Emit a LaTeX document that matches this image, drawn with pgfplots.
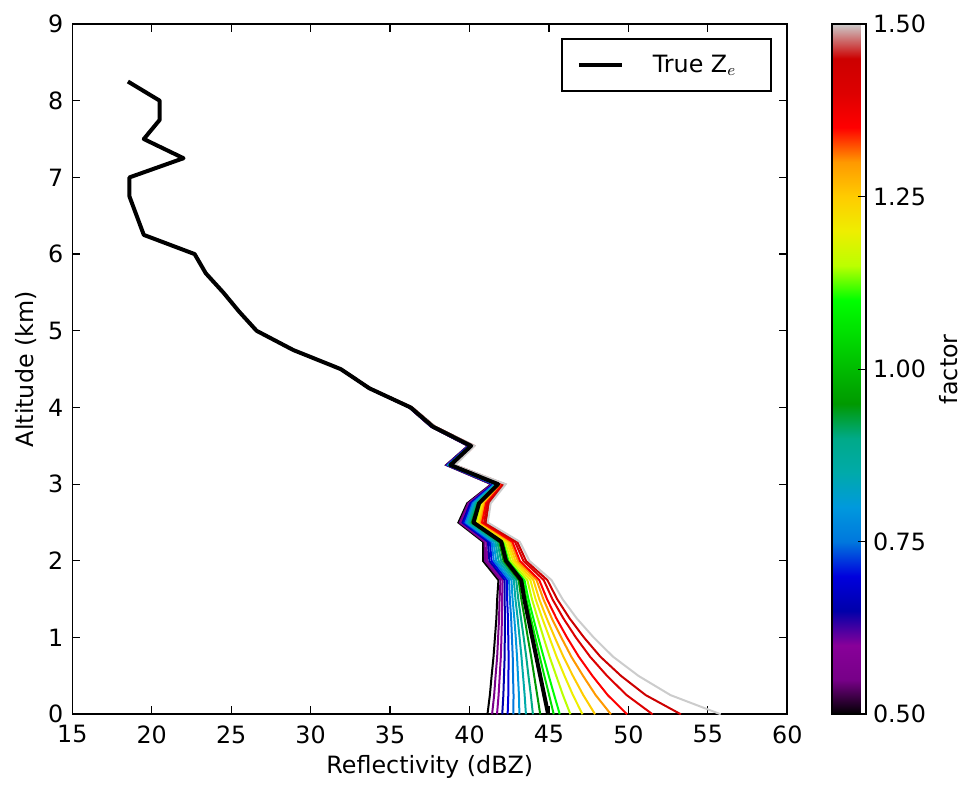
\documentclass[border=0pt]{standalone}
\usepackage{pgfplots}
\usepackage{pgfplotstable}
\pgfplotsset{compat=1.18}
\usepackage{fontspec}
\setmainfont{DejaVu Sans}

\definecolor{c00}{rgb}{0,0,0}
\definecolor{c01}{rgb}{0.4667,0,0.5333}
\definecolor{c02}{rgb}{0.5333,0,0.6}
\definecolor{c03}{rgb}{0,0,0.6667}
\definecolor{c04}{rgb}{0,0,0.8667}
\definecolor{c05}{rgb}{0,0.4667,0.8667}
\definecolor{c06}{rgb}{0,0.6,0.8667}
\definecolor{c07}{rgb}{0,0.6667,0.6667}
\definecolor{c08}{rgb}{0,0.6667,0.5333}
\definecolor{c09}{rgb}{0,0.6,0}
\definecolor{c10}{rgb}{0,0.7333,0}
\definecolor{c11}{rgb}{0,0.8667,0}
\definecolor{c12}{rgb}{0,1,0}
\definecolor{c13}{rgb}{0.7333,1,0}
\definecolor{c14}{rgb}{0.9333,0.9333,0}
\definecolor{c15}{rgb}{1,0.8,0}
\definecolor{c16}{rgb}{1,0.6,0}
\definecolor{c17}{rgb}{1,0,0}
\definecolor{c18}{rgb}{0.8667,0,0}
\definecolor{c19}{rgb}{0.8,0,0}
\definecolor{c20}{rgb}{0.8,0.8,0.8}

\pgfplotstableread{
h    f050  f055  f060  f065  f070  f075  f080  f085  f090  f095  f100  f105  f110  f115  f120  f125  f130  f135  f140  f145  f150
4.5  31.87 31.87 31.88 31.88 31.88 31.89 31.89 31.89 31.89 31.90 31.90 31.90 31.91 31.91 31.91 31.92 31.92 31.92 31.92 31.93 31.93
4.25 33.64 33.64 33.65 33.66 33.66 33.67 33.67 33.68 33.69 33.69 33.70 33.71 33.71 33.72 33.73 33.73 33.74 33.75 33.75 33.76 33.77
4.0  36.20 36.21 36.22 36.23 36.24 36.25 36.26 36.27 36.28 36.29 36.30 36.31 36.32 36.33 36.34 36.35 36.36 36.37 36.38 36.39 36.40
3.75 37.57 37.58 37.60 37.61 37.62 37.63 37.65 37.66 37.67 37.69 37.70 37.71 37.73 37.74 37.75 37.77 37.78 37.80 37.81 37.83 37.84
3.5  39.90 39.92 39.94 39.96 39.98 40.00 40.02 40.04 40.06 40.08 40.10 40.12 40.14 40.16 40.18 40.20 40.22 40.24 40.26 40.29 40.31
3.25 38.53 38.56 38.58 38.61 38.63 38.66 38.69 38.72 38.74 38.77 38.80 38.83 38.85 38.88 38.91 38.94 38.97 39.00 39.03 39.06 39.09
3.0  41.37 41.41 41.45 41.49 41.53 41.57 41.62 41.66 41.71 41.75 41.80 41.83 41.85 41.90 41.95 41.99 42.04 42.09 42.16 42.21 42.28
2.75 39.85 39.92 39.99 40.05 40.13 40.20 40.28 40.36 40.44 40.52 40.60 40.64 40.68 40.75 40.82 40.89 40.97 41.04 41.13 41.23 41.33
2.5  39.30 39.39 39.47 39.56 39.65 39.75 39.84 39.94 40.04 40.14 40.25 40.30 40.35 40.44 40.53 40.61 40.71 40.79 40.92 41.03 41.15
2.25 40.85 40.95 41.06 41.16 41.28 41.39 41.51 41.63 41.75 41.87 42.00 42.07 42.13 42.23 42.35 42.46 42.59 42.70 42.86 43.00 43.16
2.0  40.85 40.98 41.11 41.25 41.39 41.53 41.68 41.83 41.99 42.14 42.30 42.38 42.46 42.60 42.75 42.89 43.04 43.17 43.39 43.56 43.77
1.75 41.82 41.95 42.08 42.21 42.35 42.49 42.64 42.79 42.94 43.09 43.25 43.35 43.46 43.64 43.83 44.02 44.22 44.39 44.67 44.90 45.16
1.5  41.74 41.89 42.05 42.21 42.37 42.54 42.71 42.89 43.07 43.26 43.45 43.58 43.71 43.93 44.16 44.39 44.65 44.88 45.22 45.52 45.86
1.25 41.69 41.86 42.04 42.23 42.42 42.62 42.82 43.03 43.24 43.47 43.70 43.86 44.02 44.29 44.58 44.86 45.18 45.47 45.91 46.30 46.75
1.0  41.60 41.80 42.01 42.22 42.44 42.67 42.91 43.15 43.41 43.67 43.95 44.14 44.33 44.66 45.03 45.37 45.78 46.14 46.70 47.21 47.82
0.75 41.51 41.74 41.97 42.21 42.46 42.72 42.99 43.27 43.57 43.88 44.20 44.42 44.66 45.04 45.48 45.91 46.41 46.88 47.59 48.24 49.04
0.5  41.39 41.64 41.90 42.17 42.45 42.74 43.05 43.37 43.71 44.07 44.45 44.71 44.99 45.46 45.98 46.51 47.15 47.74 48.66 49.54 50.64
0.25 41.28 41.55 41.83 42.13 42.44 42.77 43.11 43.47 43.86 44.26 44.70 45.01 45.33 45.88 46.51 47.16 47.94 48.70 49.89 51.09 52.65
0.0  41.13 41.42 41.73 42.06 42.40 42.76 43.14 43.55 43.99 44.45 44.95 45.30 45.68 46.35 47.11 47.90 48.90 49.92 51.52 53.30 55.81
}\spread

\pgfplotstableread{
h    z
8.25 18.5
8.0  20.5
7.75 20.5
7.5  19.5
7.25 22.0
7.0  18.6
6.75 18.6
6.5  19.05
6.25 19.5
6.0  22.7
5.75 23.4
5.5  24.5
5.25 25.5
5.0  26.6
4.75 28.9
4.5  31.9
4.25 33.7
4.0  36.3
3.75 37.7
3.5  40.1
3.25 38.8
3.0  41.8
2.75 40.6
2.5  40.25
2.25 42.0
2.0  42.3
1.75 43.25
1.5  43.45
1.25 43.7
1.0  43.95
0.75 44.2
0.5  44.45
0.25 44.7
0.0  44.95
}\truez

\begin{document}
\begin{tikzpicture}
\pgfplotsset{every axis/.append style={font=\fontsize{11.9}{14}\selectfont}}
\begin{axis}[
  at={(0,0)}, anchor=south west,
  scale only axis, width=357.5pt, height=345.15pt,
  xmin=15, xmax=60, ymin=0, ymax=9,
  xtick={15,20,...,60}, ytick={0,1,...,9},
  /pgf/number format/assume math mode=true,
  tick align=inside, major tick length=4pt,
  tick style={black, line width=0.6pt},
  axis line style={line width=0.8pt},
  xticklabel style={yshift=-2pt},
  yticklabel style={xshift=-1pt},
  xlabel={Reflectivity (dBZ)}, ylabel={Altitude (km)},
  xlabel style={yshift=1pt}, ylabel style={yshift=-1pt},
  colormap={nipy}{rgb=(0,0,0) rgb=(0.4667,0,0.5333) rgb=(0.5333,0,0.6) rgb=(0,0,0.6667) rgb=(0,0,0.8667) rgb=(0,0.4667,0.8667) rgb=(0,0.6,0.8667) rgb=(0,0.6667,0.6667) rgb=(0,0.6667,0.5333) rgb=(0,0.6,0) rgb=(0,0.7333,0) rgb=(0,0.8667,0) rgb=(0,1,0) rgb=(0.7333,1,0) rgb=(0.9333,0.9333,0) rgb=(1,0.8,0) rgb=(1,0.6,0) rgb=(1,0,0) rgb=(0.8667,0,0) rgb=(0.8,0,0) rgb=(0.8,0.8,0.8)},
  point meta min=0.5, point meta max=1.5,
  colorbar,
  colorbar style={
    at={(parent axis.north east)}, anchor=north west, xshift=13.8pt,
    width=17pt,
    ytick={0.5,0.75,1,1.25,1.5},
    yticklabel style={/pgf/number format/.cd, fixed, fixed zerofill, precision=2, assume math mode=true},
    ytick pos=right, tick align=inside, major tick length=4pt,
    ylabel={factor},
    axis line style={line width=0.8pt},
  },
  legend style={at={(1,1)}, anchor=north east, xshift=-7.65pt, yshift=-7pt,
    draw=black, line width=0.8pt, inner xsep=7.5pt, inner ysep=6pt,
    font=\fontsize{11.9}{14}\selectfont},
  legend cell align=left,
]
\addplot[c00, line width=1pt, forget plot] table[x=f050, y=h] {\spread};
\addplot[c01, line width=1pt, forget plot] table[x=f055, y=h] {\spread};
\addplot[c02, line width=1pt, forget plot] table[x=f060, y=h] {\spread};
\addplot[c03, line width=1pt, forget plot] table[x=f065, y=h] {\spread};
\addplot[c04, line width=1pt, forget plot] table[x=f070, y=h] {\spread};
\addplot[c05, line width=1pt, forget plot] table[x=f075, y=h] {\spread};
\addplot[c06, line width=1pt, forget plot] table[x=f080, y=h] {\spread};
\addplot[c07, line width=1pt, forget plot] table[x=f085, y=h] {\spread};
\addplot[c08, line width=1pt, forget plot] table[x=f090, y=h] {\spread};
\addplot[c09, line width=1pt, forget plot] table[x=f095, y=h] {\spread};
\addplot[c10, line width=1pt, forget plot] table[x=f100, y=h] {\spread};
\addplot[c11, line width=1pt, forget plot] table[x=f105, y=h] {\spread};
\addplot[c12, line width=1pt, forget plot] table[x=f110, y=h] {\spread};
\addplot[c13, line width=1pt, forget plot] table[x=f115, y=h] {\spread};
\addplot[c14, line width=1pt, forget plot] table[x=f120, y=h] {\spread};
\addplot[c15, line width=1pt, forget plot] table[x=f125, y=h] {\spread};
\addplot[c16, line width=1pt, forget plot] table[x=f130, y=h] {\spread};
\addplot[c17, line width=1pt, forget plot] table[x=f135, y=h] {\spread};
\addplot[c18, line width=1pt, forget plot] table[x=f140, y=h] {\spread};
\addplot[c19, line width=1pt, forget plot] table[x=f145, y=h] {\spread};
\addplot[c20, line width=1pt, forget plot] table[x=f150, y=h] {\spread};
\addplot[black, line width=2pt, line join=round,
  legend image code/.code={\draw[black, line width=2pt] (0pt,0pt) -- (21.5pt,0pt); \path[draw=none, fill=none] (0pt,0pt) -- (35pt,0pt);}]
  table[x=z, y=h] {\truez};
\addlegendentry{True Z$_e$\kern8pt}
\end{axis}
\pgfresetboundingbox
\path[use as bounding box] (-36.15pt,-35.85pt) rectangle (445.85pt,357.15pt);
\end{tikzpicture}
\end{document}
